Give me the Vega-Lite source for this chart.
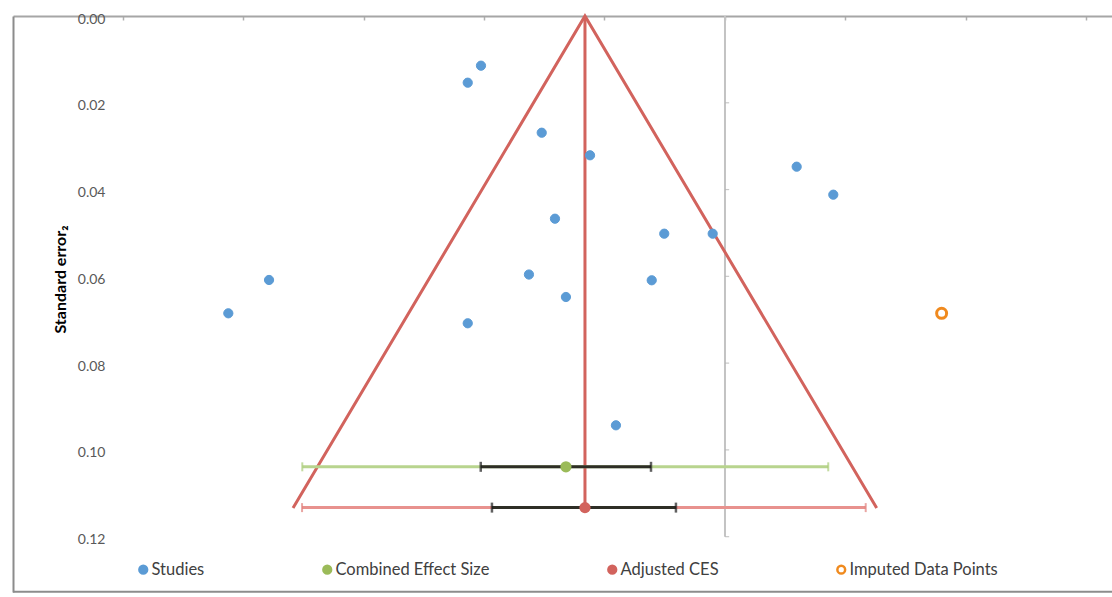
{
  "$schema": "https://vega.github.io/schema/vega-lite/v6.json",
  "width": 1099,
  "height": 576,
  "autosize": {"type": "none"},
  "padding": {"left": 13, "top": 16, "right": 0, "bottom": 5},
  "config": {"view": {"stroke": null}, "font": "Lato"},
  "datasets": {
    "points": [
      {"series": "Studies", "x": -0.2025, "se": 0.01145},
      {"series": "Studies", "x": -0.2135, "se": 0.01537},
      {"series": "Studies", "x": -0.1521, "se": 0.0269},
      {"series": "Studies", "x": -0.112, "se": 0.0321},
      {"series": "Studies", "x": 0.0595, "se": 0.03473},
      {"series": "Studies", "x": 0.0899, "se": 0.04118},
      {"series": "Studies", "x": -0.1411, "se": 0.04672},
      {"series": "Studies", "x": -0.0504, "se": 0.05017},
      {"series": "Studies", "x": -0.0102, "se": 0.05017},
      {"series": "Studies", "x": -0.1627, "se": 0.05958},
      {"series": "Studies", "x": -0.3784, "se": 0.06084},
      {"series": "Studies", "x": -0.0608, "se": 0.06091},
      {"series": "Studies", "x": -0.132, "se": 0.06476},
      {"series": "Studies", "x": -0.4122, "se": 0.06852},
      {"series": "Studies", "x": -0.2135, "se": 0.07082},
      {"series": "Studies", "x": -0.0905, "se": 0.09433},
      {"series": "Combined Effect Size", "x": -0.132, "se": 0.1039},
      {"series": "Adjusted CES", "x": -0.1162, "se": 0.1133},
      {"series": "Imputed Data Points", "x": 0.1798, "se": 0.06852}
    ],
    "funnel": [
      {"order": 1, "x": -0.3585, "se": 0.1134},
      {"order": 2, "x": -0.1162, "se": 0},
      {"order": 3, "x": 0.1259, "se": 0.1134}
    ],
    "bars": [
      {"bar": "Combined", "seg": "outer", "lo": -0.3508, "hi": 0.0857, "se": 0.1039},
      {"bar": "Combined", "seg": "inner", "lo": -0.2027, "hi": -0.0614, "se": 0.1039},
      {"bar": "Adjusted", "seg": "outer", "lo": -0.351, "hi": 0.1168, "se": 0.1133},
      {"bar": "Adjusted", "seg": "inner", "lo": -0.1934, "hi": -0.0407, "se": 0.1133}
    ],
    "vticks": [
      {"se": 0.02}, {"se": 0.04}, {"se": 0.06}, {"se": 0.08}, {"se": 0.1}, {"se": 0.12}
    ],
    "one": [{"k": 1}]
  },
  "layer": [
    {
      "data": {"name": "one"},
      "mark": {"type": "rule", "color": "#c3c3c3", "strokeWidth": 2},
      "encoding": {
        "x": {
          "datum": 0, "type": "quantitative",
          "scale": {"domain": [-0.5909, 0.3212], "nice": false, "zero": false},
          "axis": {
            "orient": "top", "values": [-0.5, -0.4, -0.3, -0.2, -0.1, 0, 0.1, 0.2, 0.3],
            "labels": false, "title": null, "grid": false,
            "domainColor": "#a6a6a6", "domainWidth": 2,
            "tickColor": "#b0b0b0", "tickSize": -4, "tickWidth": 1.5
          }
        },
        "y": {
          "datum": 0, "type": "quantitative",
          "scale": {"domain": [0, 0.13275], "nice": false, "zero": false, "reverse": true},
          "axis": {
            "orient": "left", "values": [0, 0.02, 0.04, 0.06, 0.08, 0.1, 0.12],
            "format": ".2f", "ticks": false, "grid": false,
            "domainColor": "#8c8c8c", "domainWidth": 2,
            "labelAlign": "right", "labelPadding": -92, "labelOffset": 3,
            "labelColor": "#595959", "labelFontSize": 14, "labelFont": "Lato",
            "title": "Standard error₂", "titleFontSize": 16, "titleFontWeight": "bold",
            "titleColor": "#000000", "titleFont": "Lato",
            "titleX": 47, "titleY": 263, "titleAngle": 270,
            "titleAlign": "center", "titleBaseline": "middle"
          }
        },
        "y2": {"datum": 0.12}
      }
    },
    {
      "data": {"name": "vticks"},
      "mark": {"type": "tick", "orient": "horizontal", "size": 4, "thickness": 1.2, "color": "#b0b0b0"},
      "encoding": {
        "x": {"datum": 0.0018, "type": "quantitative"},
        "y": {"field": "se", "type": "quantitative"}
      }
    },
    {
      "data": {"name": "one"},
      "mark": {"type": "rule", "color": "#8c8c8c", "strokeWidth": 2},
      "encoding": {"y": {"datum": 0.1327, "type": "quantitative"}}
    },
    {
      "data": {"name": "funnel"},
      "mark": {"type": "line", "color": "#d2635d", "strokeWidth": 3},
      "encoding": {
        "x": {"field": "x", "type": "quantitative"},
        "y": {"field": "se", "type": "quantitative"},
        "order": {"field": "order"}
      }
    },
    {
      "data": {"name": "funnel"},
      "transform": [{"filter": "datum.order == 2"}],
      "mark": {"type": "rule", "color": "#d2635d", "strokeWidth": 3},
      "encoding": {
        "x": {"field": "x", "type": "quantitative"},
        "y": {"datum": 0, "type": "quantitative"},
        "y2": {"datum": 0.1133}
      }
    },
    {
      "data": {"name": "bars"},
      "transform": [{"filter": "datum.bar == 'Combined' && datum.seg == 'outer'"}],
      "mark": {"type": "rule", "color": "#b8d48e", "strokeWidth": 3},
      "encoding": {
        "x": {"field": "lo", "type": "quantitative"},
        "x2": {"field": "hi"},
        "y": {"field": "se", "type": "quantitative"}
      }
    },
    {
      "data": {"name": "bars"},
      "transform": [{"filter": "datum.bar == 'Adjusted' && datum.seg == 'outer'"}],
      "mark": {"type": "rule", "color": "#e8928e", "strokeWidth": 3},
      "encoding": {
        "x": {"field": "lo", "type": "quantitative"},
        "x2": {"field": "hi"},
        "y": {"field": "se", "type": "quantitative"}
      }
    },
    {
      "data": {"name": "bars"},
      "transform": [{"filter": "datum.bar == 'Combined' && datum.seg == 'outer'"}, {"fold": ["lo", "hi"], "as": ["end", "xv"]}],
      "mark": {"type": "tick", "orient": "vertical", "size": 9, "thickness": 2, "color": "#a9cc78"},
      "encoding": {
        "x": {"field": "xv", "type": "quantitative"},
        "y": {"field": "se", "type": "quantitative"}
      }
    },
    {
      "data": {"name": "bars"},
      "transform": [{"filter": "datum.bar == 'Adjusted' && datum.seg == 'outer'"}, {"fold": ["lo", "hi"], "as": ["end", "xv"]}],
      "mark": {"type": "tick", "orient": "vertical", "size": 9, "thickness": 2, "color": "#e07f7a"},
      "encoding": {
        "x": {"field": "xv", "type": "quantitative"},
        "y": {"field": "se", "type": "quantitative"}
      }
    },
    {
      "data": {"name": "bars"},
      "transform": [{"filter": "datum.seg == 'inner'"}],
      "mark": {"type": "rule", "color": "#2e2e26", "strokeWidth": 3},
      "encoding": {
        "x": {"field": "lo", "type": "quantitative"},
        "x2": {"field": "hi"},
        "y": {"field": "se", "type": "quantitative"}
      }
    },
    {
      "data": {"name": "bars"},
      "transform": [{"filter": "datum.seg == 'inner'"}, {"fold": ["lo", "hi"], "as": ["end", "xv"]}],
      "mark": {"type": "tick", "orient": "vertical", "size": 10, "thickness": 2.5, "color": "#1e1e1e"},
      "encoding": {
        "x": {"field": "xv", "type": "quantitative"},
        "y": {"field": "se", "type": "quantitative"}
      }
    },
    {
      "data": {"name": "points"},
      "transform": [{"filter": "datum.series == 'Studies'"}],
      "mark": {"type": "point", "filled": false, "strokeWidth": 1, "opacity": 1, "shape": "circle", "size": 85},
      "encoding": {
        "x": {"field": "x", "type": "quantitative"},
        "y": {"field": "se", "type": "quantitative"},
        "fill": {
          "field": "series", "type": "nominal",
          "scale": {"domain": ["Studies", "Combined Effect Size", "Adjusted CES", "Imputed Data Points"],
                    "range": ["#5b9bd5", "#9bbb59", "#d2635d", "#ffffff"]},
          "legend": {
            "title": null, "orient": "none", "legendX": 122, "legendY": 545,
            "direction": "horizontal", "columnPadding": 113, "padding": 0,
            "symbolSize": 60, "symbolStrokeWidth": 2.5, "symbolType": "circle",
            "labelFontSize": 16.5, "labelColor": "#404040", "labelFont": "Lato", "labelOffset": 0
          }
        },
        "stroke": {
          "field": "series", "type": "nominal",
          "scale": {"domain": ["Studies", "Combined Effect Size", "Adjusted CES", "Imputed Data Points"],
                    "range": ["#5b9bd5", "#9bbb59", "#d2635d", "#f08a1e"]},
          "legend": {
            "title": null, "orient": "none", "legendX": 122, "legendY": 545,
            "direction": "horizontal", "columnPadding": 113, "padding": 0,
            "symbolSize": 60, "symbolStrokeWidth": 2.5, "symbolType": "circle",
            "labelFontSize": 16.5, "labelColor": "#404040", "labelFont": "Lato", "labelOffset": 0
          }
        }
      }
    },
    {
      "data": {"name": "points"},
      "transform": [{"filter": "datum.series == 'Combined Effect Size' || datum.series == 'Adjusted CES'"}],
      "mark": {"type": "circle", "size": 125, "opacity": 1},
      "encoding": {
        "x": {"field": "x", "type": "quantitative"},
        "y": {"field": "se", "type": "quantitative"},
        "color": {
          "field": "series", "type": "nominal",
          "scale": {"domain": ["Combined Effect Size", "Adjusted CES"], "range": ["#9bbb59", "#d2635d"]},
          "legend": null
        }
      }
    },
    {
      "data": {"name": "points"},
      "transform": [{"filter": "datum.series == 'Imputed Data Points'"}],
      "mark": {"type": "point", "shape": "circle", "size": 100, "strokeWidth": 3, "color": "#f08a1e", "filled": false, "opacity": 1},
      "encoding": {
        "x": {"field": "x", "type": "quantitative"},
        "y": {"field": "se", "type": "quantitative"}
      }
    }
  ]
}
